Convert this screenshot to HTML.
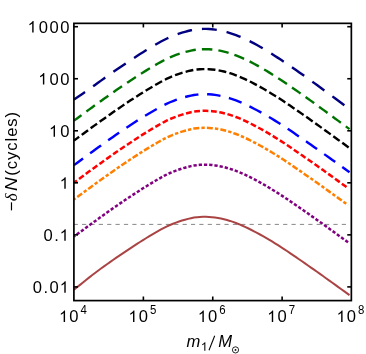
<!DOCTYPE html>
<html><head><meta charset="utf-8"><title>plot</title>
<style>
html,body{margin:0;padding:0;background:#fff;}
svg{display:block;will-change:transform;font-family:"Liberation Sans",sans-serif;}
</style></head><body>
<svg width="366" height="354" viewBox="0 0 366 354">
<rect width="366" height="354" fill="#fff"/>
<defs><clipPath id="c"><rect x="73.9" y="23.35" width="277.45000000000005" height="277.25"/></clipPath></defs>
<line x1="73.63" y1="224.4" x2="349.5" y2="224.4" stroke="#888" stroke-width="1" stroke-dasharray="4.2 4.18"/>
<g clip-path="url(#c)">
<path d="M74.0 99.56 L77.0 97.52 L80.0 95.49 L83.0 93.46 L86.0 91.44 L89.0 89.30 L92.0 87.12 L95.0 84.94 L98.0 82.78 L101.0 80.62 L104.0 78.48 L107.0 76.35 L110.0 74.23 L113.0 72.13 L116.0 70.04 L119.0 67.97 L122.0 65.93 L125.0 63.90 L128.0 61.90 L131.0 59.92 L134.0 57.98 L137.0 56.01 L140.0 54.08 L143.0 52.18 L146.0 50.33 L149.0 48.53 L152.0 46.74 L155.0 44.96 L158.0 43.23 L161.0 41.57 L164.0 39.98 L167.0 38.46 L170.0 37.09 L173.0 35.85 L176.0 34.69 L179.0 33.63 L182.0 32.67 L185.0 31.81 L188.0 30.99 L191.0 30.29 L194.0 29.69 L197.0 29.32 L200.0 29.06 L203.0 28.92 L206.0 28.91 L209.0 29.01 L212.0 29.24 L215.0 29.59 L218.0 30.05 L221.0 30.63 L224.0 31.32 L227.0 32.12 L230.0 33.02 L233.0 34.02 L236.0 35.12 L239.0 36.30 L242.0 37.58 L245.0 38.93 L248.0 40.35 L251.0 41.85 L254.0 43.41 L257.0 45.05 L260.0 46.75 L263.0 48.50 L266.0 50.29 L269.0 52.13 L272.0 54.01 L275.0 55.93 L278.0 57.87 L281.0 59.85 L284.0 61.85 L287.0 63.87 L290.0 65.91 L293.0 67.98 L296.0 70.06 L299.0 72.16 L302.0 74.28 L305.0 76.41 L308.0 78.56 L311.0 80.72 L314.0 82.89 L317.0 85.07 L320.0 87.26 L323.0 89.46 L326.0 91.66 L329.0 93.87 L332.0 96.08 L335.0 98.30 L338.0 100.52 L341.0 102.75 L344.0 104.98 L349.5 109.08" fill="none" stroke="#000080" stroke-width="2.4" stroke-dasharray="14.9 10.0" stroke-dashoffset="1.6"/>
<path d="M74.0 120.66 L77.0 118.44 L80.0 116.22 L83.0 114.01 L86.0 111.80 L89.0 109.60 L92.0 107.42 L95.0 105.24 L98.0 103.08 L101.0 100.92 L104.0 98.78 L107.0 96.65 L110.0 94.53 L113.0 92.43 L116.0 90.34 L119.0 88.27 L122.0 86.23 L125.0 84.20 L128.0 82.20 L131.0 80.22 L134.0 78.28 L137.0 76.31 L140.0 74.38 L143.0 72.48 L146.0 70.63 L149.0 68.83 L152.0 67.04 L155.0 65.26 L158.0 63.53 L161.0 61.87 L164.0 60.28 L167.0 58.76 L170.0 57.39 L173.0 56.15 L176.0 54.99 L179.0 53.93 L182.0 52.97 L185.0 52.11 L188.0 51.29 L191.0 50.59 L194.0 49.99 L197.0 49.62 L200.0 49.36 L203.0 49.22 L206.0 49.21 L209.0 49.31 L212.0 49.54 L215.0 49.89 L218.0 50.35 L221.0 50.93 L224.0 51.62 L227.0 52.42 L230.0 53.32 L233.0 54.32 L236.0 55.42 L239.0 56.60 L242.0 57.88 L245.0 59.23 L248.0 60.65 L251.0 62.15 L254.0 63.71 L257.0 65.34 L260.0 67.03 L263.0 68.77 L266.0 70.56 L269.0 72.38 L272.0 74.25 L275.0 76.16 L278.0 78.10 L281.0 80.07 L284.0 82.06 L287.0 84.08 L290.0 86.12 L293.0 88.18 L296.0 90.26 L299.0 92.36 L302.0 94.47 L305.0 96.60 L308.0 98.74 L311.0 100.89 L314.0 103.06 L317.0 105.23 L320.0 107.41 L323.0 109.60 L326.0 111.79 L329.0 114.00 L332.0 116.20 L335.0 118.41 L338.0 120.63 L341.0 122.85 L344.0 125.07 L349.5 129.16" fill="none" stroke="#007400" stroke-width="2.4" stroke-dasharray="10.5 6.1" stroke-dashoffset="1.2"/>
<path d="M74.0 140.56 L77.0 138.34 L80.0 136.12 L83.0 133.91 L86.0 131.70 L89.0 129.50 L92.0 127.32 L95.0 125.14 L98.0 122.98 L101.0 120.82 L104.0 118.68 L107.0 116.55 L110.0 114.43 L113.0 112.33 L116.0 110.24 L119.0 108.17 L122.0 106.13 L125.0 104.10 L128.0 102.10 L131.0 100.12 L134.0 98.18 L137.0 96.21 L140.0 94.28 L143.0 92.38 L146.0 90.53 L149.0 88.73 L152.0 86.94 L155.0 85.16 L158.0 83.43 L161.0 81.77 L164.0 80.18 L167.0 78.66 L170.0 77.29 L173.0 76.05 L176.0 74.89 L179.0 73.83 L182.0 72.87 L185.0 72.01 L188.0 71.19 L191.0 70.49 L194.0 69.89 L197.0 69.52 L200.0 69.26 L203.0 69.12 L206.0 69.11 L209.0 69.21 L212.0 69.44 L215.0 69.79 L218.0 70.25 L221.0 70.83 L224.0 71.52 L227.0 72.32 L230.0 73.22 L233.0 74.22 L236.0 75.32 L239.0 76.50 L242.0 77.78 L245.0 79.13 L248.0 80.55 L251.0 82.05 L254.0 83.61 L257.0 85.20 L260.0 86.85 L263.0 88.54 L266.0 90.29 L269.0 92.08 L272.0 93.91 L275.0 95.77 L278.0 97.67 L281.0 99.60 L284.0 101.58 L287.0 103.58 L290.0 105.60 L293.0 107.65 L296.0 109.71 L299.0 111.79 L302.0 113.88 L305.0 115.99 L308.0 118.10 L311.0 120.22 L314.0 122.34 L317.0 124.48 L320.0 126.63 L323.0 128.79 L326.0 130.95 L329.0 133.12 L332.0 135.29 L335.0 137.47 L338.0 139.66 L341.0 141.84 L344.0 144.03 L349.5 148.06" fill="none" stroke="#000000" stroke-width="2.4" stroke-dasharray="7.9 3.2" stroke-dashoffset="1.5"/>
<path d="M74.0 165.14 L77.0 162.92 L80.0 160.71 L83.0 158.50 L86.0 156.30 L89.0 154.10 L92.0 151.92 L95.0 149.75 L98.0 147.58 L101.0 145.43 L104.0 143.29 L107.0 141.16 L110.0 139.04 L113.0 136.94 L116.0 134.86 L119.0 132.79 L122.0 130.74 L125.0 128.72 L128.0 126.72 L131.0 124.75 L134.0 122.80 L137.0 120.85 L140.0 118.94 L143.0 117.06 L146.0 115.23 L149.0 113.44 L152.0 111.68 L155.0 109.94 L158.0 108.25 L161.0 106.63 L164.0 105.08 L167.0 103.60 L170.0 102.26 L173.0 101.02 L176.0 99.88 L179.0 98.83 L182.0 97.88 L185.0 97.03 L188.0 96.24 L191.0 95.56 L194.0 94.99 L197.0 94.62 L200.0 94.36 L203.0 94.22 L206.0 94.21 L209.0 94.31 L212.0 94.54 L215.0 94.89 L218.0 95.35 L221.0 95.93 L224.0 96.62 L227.0 97.42 L230.0 98.32 L233.0 99.32 L236.0 100.42 L239.0 101.60 L242.0 102.88 L245.0 104.23 L248.0 105.65 L251.0 107.15 L254.0 108.71 L257.0 110.26 L260.0 111.87 L263.0 113.53 L266.0 115.24 L269.0 116.99 L272.0 118.78 L275.0 120.61 L278.0 122.47 L281.0 124.38 L284.0 126.34 L287.0 128.32 L290.0 130.33 L293.0 132.36 L296.0 134.41 L299.0 136.47 L302.0 138.55 L305.0 140.64 L308.0 142.72 L311.0 144.80 L314.0 146.90 L317.0 149.01 L320.0 151.13 L323.0 153.26 L326.0 155.39 L329.0 157.53 L332.0 159.67 L335.0 161.82 L338.0 163.98 L341.0 166.13 L344.0 168.30 L349.5 172.27" fill="none" stroke="#0000ff" stroke-width="2.4" stroke-dasharray="13.5 8.7" stroke-dashoffset="2.2"/>
<path d="M74.0 182.68 L77.0 180.46 L80.0 178.23 L83.0 176.02 L86.0 173.81 L89.0 171.60 L92.0 169.42 L95.0 167.24 L98.0 165.08 L101.0 162.92 L104.0 160.77 L107.0 158.64 L110.0 156.52 L113.0 154.42 L116.0 152.33 L119.0 150.26 L122.0 148.21 L125.0 146.18 L128.0 144.18 L131.0 142.21 L134.0 140.26 L137.0 138.28 L140.0 136.33 L143.0 134.42 L146.0 132.55 L149.0 130.74 L152.0 128.93 L155.0 127.11 L158.0 125.35 L161.0 123.66 L164.0 122.03 L167.0 120.48 L170.0 119.10 L173.0 117.85 L176.0 116.69 L179.0 115.62 L182.0 114.65 L185.0 113.78 L188.0 112.94 L191.0 112.21 L194.0 111.59 L197.0 111.22 L200.0 110.96 L203.0 110.82 L206.0 110.81 L209.0 110.91 L212.0 111.14 L215.0 111.49 L218.0 111.95 L221.0 112.53 L224.0 113.22 L227.0 114.02 L230.0 114.92 L233.0 115.92 L236.0 117.02 L239.0 118.20 L242.0 119.48 L245.0 120.83 L248.0 122.25 L251.0 123.75 L254.0 125.31 L257.0 126.88 L260.0 128.50 L263.0 130.17 L266.0 131.90 L269.0 133.66 L272.0 135.47 L275.0 137.31 L278.0 139.18 L281.0 141.10 L284.0 143.07 L287.0 145.06 L290.0 147.07 L293.0 149.10 L296.0 151.16 L299.0 153.23 L302.0 155.31 L305.0 157.41 L308.0 159.50 L311.0 161.60 L314.0 163.70 L317.0 165.83 L320.0 167.96 L323.0 170.09 L326.0 172.24 L329.0 174.39 L332.0 176.54 L335.0 178.70 L338.0 180.87 L341.0 183.04 L344.0 185.21 L348.6 188.55" fill="none" stroke="#ff0000" stroke-width="2.5" stroke-dasharray="5.8 2.6" stroke-dashoffset="2.1"/>
<path d="M74.0 199.47 L77.0 197.25 L80.0 195.03 L83.0 192.81 L86.0 190.61 L89.0 188.40 L92.0 186.22 L95.0 184.04 L98.0 181.88 L101.0 179.72 L104.0 177.58 L107.0 175.45 L110.0 173.33 L113.0 171.22 L116.0 169.14 L119.0 167.07 L122.0 165.02 L125.0 162.99 L128.0 160.99 L131.0 159.01 L134.0 157.07 L137.0 155.09 L140.0 153.15 L143.0 151.25 L146.0 149.39 L149.0 147.58 L152.0 145.79 L155.0 143.99 L158.0 142.24 L161.0 140.56 L164.0 138.95 L167.0 137.42 L170.0 136.04 L173.0 134.80 L176.0 133.64 L179.0 132.58 L182.0 131.61 L185.0 130.75 L188.0 129.92 L191.0 129.20 L194.0 128.59 L197.0 128.22 L200.0 127.96 L203.0 127.82 L206.0 127.81 L209.0 127.91 L212.0 128.14 L215.0 128.49 L218.0 128.95 L221.0 129.53 L224.0 130.22 L227.0 131.02 L230.0 131.92 L233.0 132.92 L236.0 134.02 L239.0 135.20 L242.0 136.48 L245.0 137.83 L248.0 139.25 L251.0 140.75 L254.0 142.31 L257.0 143.88 L260.0 145.50 L263.0 147.17 L266.0 148.90 L269.0 150.66 L272.0 152.47 L275.0 154.31 L278.0 156.18 L281.0 158.10 L284.0 160.07 L287.0 162.06 L290.0 164.07 L293.0 166.10 L296.0 168.16 L299.0 170.23 L302.0 172.31 L305.0 174.41 L308.0 176.50 L311.0 178.60 L314.0 180.70 L317.0 182.83 L320.0 184.96 L323.0 187.09 L326.0 189.24 L329.0 191.39 L332.0 193.54 L335.0 195.70 L338.0 197.87 L341.0 200.04 L344.0 202.21 L348.0 205.11" fill="none" stroke="#ff8000" stroke-width="2.5" stroke-dasharray="6.0 2.08 3.4 2.085" stroke-dashoffset="9.5"/>
<path d="M74.0 236.58 L77.0 234.36 L80.0 232.13 L83.0 229.92 L86.0 227.71 L89.0 225.50 L92.0 223.32 L95.0 221.14 L98.0 218.98 L101.0 216.82 L104.0 214.67 L107.0 212.54 L110.0 210.42 L113.0 208.32 L116.0 206.23 L119.0 204.16 L122.0 202.11 L125.0 200.08 L128.0 198.08 L131.0 196.11 L134.0 194.16 L137.0 192.18 L140.0 190.23 L143.0 188.32 L146.0 186.45 L149.0 184.64 L152.0 182.83 L155.0 181.01 L158.0 179.25 L161.0 177.56 L164.0 175.93 L167.0 174.38 L170.0 173.00 L173.0 171.75 L176.0 170.59 L179.0 169.52 L182.0 168.55 L185.0 167.68 L188.0 166.84 L191.0 166.11 L194.0 165.49 L197.0 165.12 L200.0 164.86 L203.0 164.72 L206.0 164.71 L209.0 164.81 L212.0 165.04 L215.0 165.39 L218.0 165.85 L221.0 166.43 L224.0 167.12 L227.0 167.92 L230.0 168.82 L233.0 169.82 L236.0 170.92 L239.0 172.10 L242.0 173.38 L245.0 174.73 L248.0 176.15 L251.0 177.65 L254.0 179.21 L257.0 180.79 L260.0 182.42 L263.0 184.11 L266.0 185.84 L269.0 187.62 L272.0 189.44 L275.0 191.29 L278.0 193.18 L281.0 195.10 L284.0 197.07 L287.0 199.07 L290.0 201.09 L293.0 203.12 L296.0 205.18 L299.0 207.26 L302.0 209.35 L305.0 211.45 L308.0 213.55 L311.0 215.66 L314.0 217.77 L317.0 219.91 L320.0 222.04 L323.0 224.19 L326.0 226.34 L329.0 228.50 L332.0 230.67 L335.0 232.84 L338.0 235.01 L341.0 237.19 L344.0 239.37 L348.6 242.72" fill="none" stroke="#800080" stroke-width="2.5" stroke-dasharray="3.3 1.95" stroke-dashoffset="1.8"/>
<path d="M74.0 289.76 L77.0 287.31 L80.0 284.87 L83.0 282.44 L86.0 280.02 L89.0 277.63 L92.0 275.26 L95.0 272.92 L98.0 270.68 L101.0 268.52 L104.0 266.38 L107.0 264.25 L110.0 262.13 L113.0 260.03 L116.0 257.94 L119.0 255.87 L122.0 253.83 L125.0 251.80 L128.0 249.80 L131.0 247.82 L134.0 245.88 L137.0 243.91 L140.0 241.98 L143.0 240.08 L146.0 238.23 L149.0 236.43 L152.0 234.64 L155.0 232.86 L158.0 231.13 L161.0 229.47 L164.0 227.88 L167.0 226.36 L170.0 224.99 L173.0 223.75 L176.0 222.59 L179.0 221.53 L182.0 220.57 L185.0 219.71 L188.0 218.89 L191.0 218.19 L194.0 217.59 L197.0 217.22 L200.0 216.96 L203.0 216.82 L206.0 216.81 L209.0 216.91 L212.0 217.14 L215.0 217.49 L218.0 217.95 L221.0 218.53 L224.0 219.22 L227.0 220.02 L230.0 220.92 L233.0 221.92 L236.0 223.02 L239.0 224.20 L242.0 225.48 L245.0 226.83 L248.0 228.25 L251.0 229.75 L254.0 231.31 L257.0 232.88 L260.0 234.50 L263.0 236.17 L266.0 237.89 L269.0 239.65 L272.0 241.45 L275.0 243.29 L278.0 245.17 L281.0 247.08 L284.0 249.04 L287.0 251.03 L290.0 253.05 L293.0 255.08 L296.0 257.13 L299.0 259.20 L302.0 261.29 L305.0 263.38 L308.0 265.47 L311.0 267.56 L314.0 269.67 L317.0 271.79 L320.0 273.92 L323.0 276.05 L326.0 278.20 L329.0 280.35 L332.0 282.50 L335.0 284.66 L338.0 286.82 L341.0 288.99 L344.0 291.16 L349.5 295.14" fill="none" stroke="#aa4444" stroke-width="2.0"/>
</g>
<rect x="73.9" y="23.35" width="277.45000000000005" height="277.25" fill="none" stroke="#000" stroke-width="1.7"/>
<g stroke="#000" stroke-width="1.6">
<line x1="73.9" y1="26.70" x2="78.0" y2="26.70"/>
<line x1="351.35" y1="26.70" x2="347.25" y2="26.70"/>
<line x1="73.9" y1="78.74" x2="78.0" y2="78.74"/>
<line x1="351.35" y1="78.74" x2="347.25" y2="78.74"/>
<line x1="73.9" y1="130.78" x2="78.0" y2="130.78"/>
<line x1="351.35" y1="130.78" x2="347.25" y2="130.78"/>
<line x1="73.9" y1="182.82" x2="78.0" y2="182.82"/>
<line x1="351.35" y1="182.82" x2="347.25" y2="182.82"/>
<line x1="73.9" y1="234.86" x2="78.0" y2="234.86"/>
<line x1="351.35" y1="234.86" x2="347.25" y2="234.86"/>
<line x1="73.9" y1="286.90" x2="78.0" y2="286.90"/>
<line x1="351.35" y1="286.90" x2="347.25" y2="286.90"/>
<line x1="143.38" y1="300.6" x2="143.38" y2="296.5"/>
<line x1="143.38" y1="23.35" x2="143.38" y2="27.450000000000003"/>
<line x1="212.75" y1="300.6" x2="212.75" y2="296.5"/>
<line x1="212.75" y1="23.35" x2="212.75" y2="27.450000000000003"/>
<line x1="282.12" y1="300.6" x2="282.12" y2="296.5"/>
<line x1="282.12" y1="23.35" x2="282.12" y2="27.450000000000003"/>
</g>
<g fill="#000">
<g><text x="27.65" y="32.55" font-size="16.64" fill="none">1</text><path transform="translate(27.65,32.55) scale(0.007812,-0.007812)" d="M763 0H583V1147Q518 1085 412.5 1023T223 930V1104Q374 1175 487 1276T647 1472H763Z"/><text x="38.75" y="32.55" font-size="16.6">0</text><text x="49.45" y="32.55" font-size="16.6">0</text><text x="60.15" y="32.55" font-size="16.6">0</text></g>
<g><text x="38.35" y="84.59" font-size="16.64" fill="none">1</text><path transform="translate(38.35,84.59) scale(0.007812,-0.007812)" d="M763 0H583V1147Q518 1085 412.5 1023T223 930V1104Q374 1175 487 1276T647 1472H763Z"/><text x="49.45" y="84.59" font-size="16.6">0</text><text x="60.15" y="84.59" font-size="16.6">0</text></g>
<g><text x="49.05" y="136.63" font-size="16.64" fill="none">1</text><path transform="translate(49.05,136.63) scale(0.007812,-0.007812)" d="M763 0H583V1147Q518 1085 412.5 1023T223 930V1104Q374 1175 487 1276T647 1472H763Z"/><text x="60.15" y="136.63" font-size="16.6">0</text></g>
<g><text x="59.75" y="188.67" font-size="16.64" fill="none">1</text><path transform="translate(59.75,188.67) scale(0.007812,-0.007812)" d="M763 0H583V1147Q518 1085 412.5 1023T223 930V1104Q374 1175 487 1276T647 1472H763Z"/></g>
<g><text x="43.45" y="240.71" font-size="16.6">0</text><text x="54.15" y="240.71" font-size="16.6">.</text><text x="59.75" y="240.71" font-size="16.64" fill="none">1</text><path transform="translate(59.75,240.71) scale(0.007812,-0.007812)" d="M763 0H583V1147Q518 1085 412.5 1023T223 930V1104Q374 1175 487 1276T647 1472H763Z"/></g>
<g><text x="32.75" y="292.75" font-size="16.6">0</text><text x="43.45" y="292.75" font-size="16.6">.</text><text x="49.45" y="292.75" font-size="16.6">0</text><text x="59.75" y="292.75" font-size="16.64" fill="none">1</text><path transform="translate(59.75,292.75) scale(0.007812,-0.007812)" d="M763 0H583V1147Q518 1085 412.5 1023T223 930V1104Q374 1175 487 1276T647 1472H763Z"/></g>
<g><text x="59.10" y="322.00" font-size="16.64" fill="none">1</text><path transform="translate(59.10,322.00) scale(0.007812,-0.007812)" d="M763 0H583V1147Q518 1085 412.5 1023T223 930V1104Q374 1175 487 1276T647 1472H763Z"/><text x="69.35" y="322.00" font-size="16.6">0</text><text transform="translate(80.60,314.2) scale(0.91,1)" font-size="12.6">4</text></g>
<g><text x="128.47" y="322.00" font-size="16.64" fill="none">1</text><path transform="translate(128.47,322.00) scale(0.007812,-0.007812)" d="M763 0H583V1147Q518 1085 412.5 1023T223 930V1104Q374 1175 487 1276T647 1472H763Z"/><text x="138.72" y="322.00" font-size="16.6">0</text><text transform="translate(149.97,314.2) scale(0.91,1)" font-size="12.6">5</text></g>
<g><text x="197.85" y="322.00" font-size="16.64" fill="none">1</text><path transform="translate(197.85,322.00) scale(0.007812,-0.007812)" d="M763 0H583V1147Q518 1085 412.5 1023T223 930V1104Q374 1175 487 1276T647 1472H763Z"/><text x="208.10" y="322.00" font-size="16.6">0</text><text transform="translate(219.35,314.2) scale(0.91,1)" font-size="12.6">6</text></g>
<g><text x="267.23" y="322.00" font-size="16.64" fill="none">1</text><path transform="translate(267.23,322.00) scale(0.007812,-0.007812)" d="M763 0H583V1147Q518 1085 412.5 1023T223 930V1104Q374 1175 487 1276T647 1472H763Z"/><text x="277.48" y="322.00" font-size="16.6">0</text><text transform="translate(288.73,314.2) scale(0.91,1)" font-size="12.6">7</text></g>
<g><text x="336.60" y="322.00" font-size="16.64" fill="none">1</text><path transform="translate(336.60,322.00) scale(0.007812,-0.007812)" d="M763 0H583V1147Q518 1085 412.5 1023T223 930V1104Q374 1175 487 1276T647 1472H763Z"/><text x="346.85" y="322.00" font-size="16.6">0</text><text transform="translate(358.10,314.2) scale(0.91,1)" font-size="12.6">8</text></g>
<g><text x="186.5" y="347.3" font-size="16.6" font-style="italic">m</text><text x="200.90" y="350.80" font-size="12.43" fill="none">1</text><path transform="translate(200.90,350.80) scale(0.005836,-0.005836)" d="M763 0H583V1147Q518 1085 412.5 1023T223 930V1104Q374 1175 487 1276T647 1472H763Z"/><line x1="209.0" y1="350.2" x2="214.7" y2="335.7" stroke="#000" stroke-width="1.05"/><text x="218.3" y="347.3" font-size="16.6" font-style="italic">M</text>
<circle cx="235.5" cy="349.9" r="3.1" fill="none" stroke="#000" stroke-width="0.85"/><circle cx="235.5" cy="349.9" r="0.95" fill="#000"/></g>
<g transform="translate(16.6,211.5) rotate(-90)"><text x="0.2" y="0" font-size="16.6">&#8722;</text><text x="10.3" y="0" font-size="17" font-style="italic" font-family="'Liberation Serif',serif">&#948;</text><text transform="translate(20.6,0.3) scale(1.1,1)" font-size="17.4" font-style="italic">N</text><text x="35.8" y="0" font-size="16.6" letter-spacing="0.95">(cycles)</text></g>
</g>
</svg>
</body></html>
